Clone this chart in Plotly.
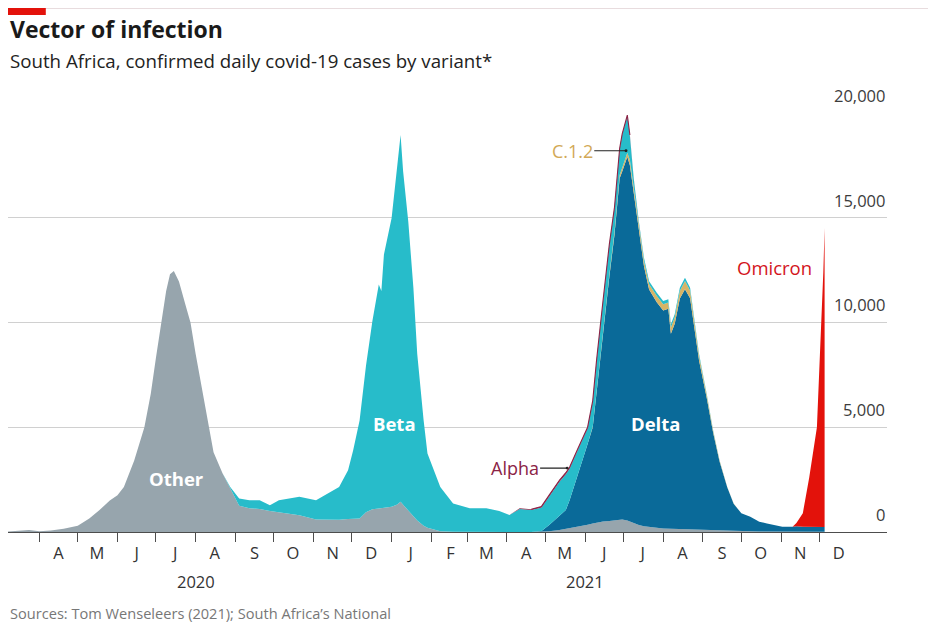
import plotly.graph_objects as go

# daily confirmed cases by variant
dates = [
    "2020-03-07", "2020-03-16", "2020-03-24", "2020-04-01", "2020-04-10", "2020-04-20",
    "2020-05-01", "2020-05-10", "2020-05-18", "2020-05-26", "2020-06-01", "2020-06-06",
    "2020-06-14", "2020-06-22", "2020-06-27", "2020-07-01", "2020-07-05", "2020-07-09",
    "2020-07-12", "2020-07-15", "2020-07-17", "2020-07-19", "2020-07-24", "2020-07-28",
    "2020-08-01", "2020-08-06", "2020-08-11", "2020-08-15", "2020-08-22", "2020-08-28",
    "2020-09-04", "2020-09-12", "2020-09-20", "2020-09-28", "2020-10-05", "2020-10-13",
    "2020-10-21", "2020-11-03", "2020-11-14", "2020-11-21", "2020-11-28", "2020-12-02",
    "2020-12-07", "2020-12-12", "2020-12-17", "2020-12-22", "2020-12-24", "2020-12-26",
    "2021-01-01", "2021-01-05", "2021-01-08", "2021-01-10", "2021-01-14", "2021-01-18",
    "2021-01-21", "2021-01-26", "2021-01-29", "2021-02-08", "2021-02-18", "2021-03-03",
    "2021-03-16", "2021-03-26", "2021-04-03", "2021-04-11", "2021-04-20", "2021-04-28",
    "2021-05-04", "2021-05-12", "2021-05-17", "2021-05-20", "2021-05-26", "2021-06-03",
    "2021-06-07", "2021-06-10", "2021-06-15", "2021-06-20", "2021-06-24", "2021-06-28",
    "2021-06-30", "2021-07-04", "2021-07-06", "2021-07-09", "2021-07-13", "2021-07-17",
    "2021-07-21", "2021-07-27", "2021-08-01", "2021-08-05", "2021-08-07", "2021-08-10",
    "2021-08-14", "2021-08-18", "2021-08-22", "2021-08-25", "2021-08-29", "2021-09-04",
    "2021-09-09", "2021-09-14", "2021-09-20", "2021-09-25", "2021-10-01", "2021-10-08",
    "2021-10-15", "2021-10-21", "2021-11-02", "2021-11-10", "2021-11-13", "2021-11-18",
    "2021-11-23", "2021-11-29", "2021-12-02", "2021-12-04", "2021-12-05",
]

other = [
    20, 60, 100, 40, 70, 150, 300, 650, 1050, 1500, 1750, 2150, 3400, 5000, 6600, 8300,
    10000, 11500, 12300, 12450, 12200, 11950, 10850, 10000, 8500, 6750, 5000, 3800, 2800,
    2050, 1250, 1130, 1100, 1000, 950, 880, 800, 600, 570, 580, 620, 640, 650, 940, 1080,
    1120, 1130, 1150, 1200, 1300, 1440, 1300, 1000, 750, 550, 300, 200, 30, 10,
    0, 0, 0, 0, 0, 0, 0,
    30, 100, 150, 180, 250, 350, 410, 450, 500, 530, 560, 590, 600, 550,
    500, 450, 330, 280, 240, 200, 170, 160, 160, 150, 140, 130, 120, 110, 100, 100, 80, 70, 50,
    40, 30, 30, 20, 20, 10, 10, 10, 10, 10, 10, 10, 10, 10,
]

beta = [0] * 29 + [
    100, 350, 390, 420, 280, 570, 720, 880, 920, 1330, 1570, 2330, 3260, 4670, 6990, 8990,
    10690, 10370, 12090, 13780, 15900, 17500, 15900, 13820, 10900, 7940, 5020, 3540, 2120, 1350,
    1130, 1130, 1000, 810, 1100, 1050, 1120,
    1380, 1650, 1700, 1500, 1230, 750, 1190, 1400, 1490, 1400, 1120, 1220, 1570, 1740,
    1150, 350, 170, 150, 150, 150, 150, 150, 150, 150, 150, 150, 140, 120, 90, 50, 30, 10, 0,
] + [0] * 14

delta = [0] * 65 + [
    50, 300, 650, 900, 1350, 2380, 3850, 4590, 6250, 8900, 11670, 13640, 16290, 16600, 17350,
    17000, 15800, 14050, 12400, 11330, 10760, 10400, 10490, 9300, 9790, 11000, 11450, 11030,
    9700, 8080, 6290, 4650, 3290, 2080, 1310, 860, 700, 470, 390, 240, 240, 270, 240, 240,
    230, 230, 230, 230,
]

c12 = [0] * 72 + [
    30, 50, 80, 100, 130, 150, 180, 200, 250, 250, 250, 250, 250, 300, 300, 300, 300, 300,
    360, 400, 360, 300, 220, 150, 90, 50, 20, 10,
] + [0] * 13

alpha = [0] * 63 + [
    30, 40, 50, 50, 70, 80, 70, 70, 50, 50, 50, 50, 50, 50, 50, 50, 50, 40, 30, 20,
] + [0] * 30

omicron = [0] * 106 + [150, 650, 2350, 4760, 8900, 12150, 14260]

month_starts = [
    "2020-04-01", "2020-05-01", "2020-06-01", "2020-07-01", "2020-08-01", "2020-09-01",
    "2020-10-01", "2020-11-01", "2020-12-01", "2021-01-01", "2021-02-01", "2021-03-01",
    "2021-04-01", "2021-05-01", "2021-06-01", "2021-07-01", "2021-08-01", "2021-09-01",
    "2021-10-01", "2021-11-01", "2021-12-01",
]
month_mids = [d[:8] + "16" for d in month_starts]
month_letters = ["A", "M", "J", "J", "A", "S", "O", "N", "D", "J", "F",
                 "M", "A", "M", "J", "J", "A", "S", "O", "N", "D"]
y_ticks = [0, 5000, 10000, 15000, 20000]
y_labels = ["0", "5,000", "10,000", "15,000", "20,000"]

FONT = "Open Sans"
colors = {
    "Other": "#97a5ad",
    "Delta": "#0a6a99",
    "C.1.2": "#d6b466",
    "Beta": "#27bcca",
    "Alpha": "#8b2346",
    "Omicron": "#e3120b",
}

fig = go.Figure()
for name, vals in [("Other", other), ("Delta", delta), ("C.1.2", c12),
                   ("Beta", beta), ("Alpha", alpha), ("Omicron", omicron)]:
    fig.add_trace(go.Scatter(
        x=dates, y=vals, name=name, stackgroup="v", mode="lines",
        line=dict(width=0, color=colors[name]), fillcolor=colors[name],
        hoverinfo="skip",
    ))

# thin outline along the top where alpha sits
idx = [i for i, a in enumerate(alpha) if a > 30]
alpha_top = [other[i] + delta[i] + c12[i] + beta[i] + alpha[i] for i in idx]
fig.add_trace(go.Scatter(x=[dates[i] for i in idx], y=alpha_top, mode="lines",
                         line=dict(width=1.1, color=colors["Alpha"]), hoverinfo="skip"))

def lab(text, x, y, color="white", size=19, bold=True):
    fig.add_annotation(x=x, y=y, xref="x", yref="y", text=f"<b>{text}</b>" if bold else text,
                       showarrow=False, font=dict(family=FONT, size=size, color=color))

lab("Other", "2020-07-17", 2560, size=18.5)
lab("Beta", "2021-01-03", 5180, size=18.5)
lab("Delta", "2021-07-26", 5180, size=18.5)
lab("Omicron", "2021-10-27", 12630, "#d3141c", 18.5, False)

for text, tip, ax, yv, col in [("Alpha", "2021-05-18", "2021-04-07", 3050, colors["Alpha"]),
                               ("C.1.2", "2021-07-03", "2021-05-22", 18190, "#d2a957")]:
    fig.add_annotation(x=tip, y=yv, ax=ax, ay=yv, xref="x", yref="y", axref="x", ayref="y",
                       text=text, showarrow=True, arrowhead=6, arrowsize=0.6, arrowwidth=1.2,
                       arrowcolor="#222", font=dict(family=FONT, size=18, color=col))

# y labels sit above their gridlines, flush right
for v, t in zip(y_ticks, y_labels):
    fig.add_annotation(x=1, y=v, xref="paper", yref="y", xanchor="right", yanchor="bottom",
                       yshift=4, text=t, showarrow=False,
                       font=dict(family=FONT, size=16.5, color="#3c3c3c"))

for yr, at in [("2020", "2020-08-01"), ("2021", "2021-06-01")]:
    fig.add_annotation(x=at, y=-0.119, xref="x", yref="paper", yanchor="middle", text=yr,
                       showarrow=False, font=dict(family=FONT, size=16.5, color="#333"))

fig.add_annotation(x=0, y=1.198, xref="paper", yref="paper", xanchor="left", yanchor="middle",
                   text="<b>Vector of infection</b>", showarrow=False,
                   font=dict(family=FONT, size=23, color="#1a1a1a"))
fig.add_annotation(x=0, y=1.122, xref="paper", yref="paper", xanchor="left", yanchor="middle",
                   text="South Africa, confirmed daily covid-19 cases by variant*", showarrow=False,
                   font=dict(family=FONT, size=18.7, color="#222"))
fig.add_annotation(x=0, y=-0.193, xref="paper", yref="paper", xanchor="left", yanchor="middle",
                   text="Sources: Tom Wenseleers (2021); South Africa\u2019s National", showarrow=False,
                   font=dict(family=FONT, size=14.6, color="#777"))

fig.add_shape(type="line", xref="paper", yref="paper", x0=0.04, x1=1.06, y0=1.2465, y1=1.2465,
              line=dict(color="#e8dcde", width=1))
fig.add_shape(type="rect", xref="paper", yref="paper", x0=-0.002, x1=0.043, y0=1.231, y1=1.2476,
              fillcolor="#e3120b", line=dict(width=0))

fig.update_layout(
    width=928, height=616, margin=dict(l=0, r=49, t=104, b=92),
    plot_bgcolor="white", paper_bgcolor="white", showlegend=False,
    font=dict(family=FONT),
    xaxis=dict(
        type="date", range=["2020-03-07 13:00", "2022-01-22 17:00"], showgrid=False,
        zeroline=False, showline=True, linecolor="#4d4d4d", linewidth=1,
        tickvals=month_mids, ticktext=month_letters, ticks="outside", ticklen=6,
        tickcolor="rgba(0,0,0,0)", tickfont=dict(family=FONT, size=16.5, color="#333"),
        minor=dict(tickvals=month_starts, ticks="outside", ticklen=9, tickwidth=1,
                   tickcolor="#4d4d4d", showgrid=False),
    ),
    yaxis=dict(
        range=[0, 20040], tickvals=y_ticks, showticklabels=False, showgrid=True,
        gridcolor="#d0d0d0", gridwidth=1, zeroline=False, ticks="",
    ),
)

fig.write_html("out.html")
